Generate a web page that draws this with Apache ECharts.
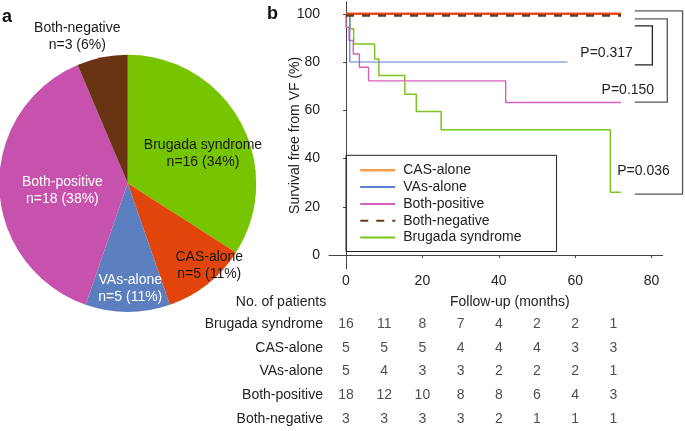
<!DOCTYPE html>
<html><head><meta charset="utf-8">
<script src="https://cdn.jsdelivr.net/npm/echarts@6/dist/echarts.min.js"></script>
<style>html,body{margin:0;padding:0;background:#fff}#c{width:685px;height:431px}</style>
</head><body><div id="c"></div>
<script>
const FONT = "'Liberation Sans', Arial, Helvetica, sans-serif";
// ---- Panel a: pie ----
const pieNames = ['Brugada syndrome', 'CAS-alone', 'VAs-alone', 'Both-positive', 'Both-negative'];
const pieCounts = [16, 5, 5, 18, 3];
const pieColors = ['#77c400', '#e2450c', '#5b7fbf', '#c652ad', '#6a3414'];
const pieLabelColors = ['#1a1a1a', '#1a1a1a', '#ffffff', '#ffffff', '#1a1a1a'];
// ---- Panel b: Kaplan-Meier ----
const casTimes = [0, 72];                 const casSurv = [100, 100];
const vasTimes = [0, 1, 58];              const vasSurv = [100, 80, 80];
const bothPosTimes = [0, 0, 0.8, 1.9, 3.5, 5.9, 41.8, 72];
const bothPosSurv  = [100, 94.4, 88.9, 83.3, 77.8, 72.2, 63.2, 63.2];
const bothNegTimes = [0, 72];             const bothNegSurv = [99.3, 99.3];
const brugadaTimes = [0, 1, 2, 7.5, 8.6, 15.4, 18.4, 24.9, 69.2, 72];
const brugadaSurv  = [100, 93.8, 87.5, 81.3, 74.4, 66.6, 59.5, 51.9, 26, 26];
const xTicks = [0, 20, 40, 60, 80];
const yTicks = [0, 20, 40, 60, 80, 100];
// ---- Number at risk ----
const atRiskMonths = [0, 10, 20, 30, 40, 50, 60, 70];
const tableRows = ['Brugada syndrome', 'CAS-alone', 'VAs-alone', 'Both-positive', 'Both-negative'];
const atRiskBrugada = [16, 11, 8, 7, 4, 2, 2, 1];
const atRiskCAS     = [5, 5, 5, 4, 4, 4, 3, 3];
const atRiskVAs     = [5, 4, 3, 3, 2, 2, 2, 1];
const atRiskBothPos = [18, 12, 10, 8, 8, 6, 4, 3];
const atRiskBothNeg = [3, 3, 3, 3, 2, 1, 1, 1];
// ---- P-value annotations ----
const pLabels = ['P=0.317', 'P=0.150', 'P=0.036'];

const zip = (t, s) => t.map((v, i) => [v, s[i]]);
const atRiskAll = [atRiskBrugada, atRiskCAS, atRiskVAs, atRiskBothPos, atRiskBothNeg];
const tableData = [];
atRiskAll.forEach((row, r) => row.forEach((v, i) => tableData.push([atRiskMonths[i], tableRows[r], v])));

const pieLabelPos = [[203, 153.7], [209.3, 265.4], [130.3, 288.4], [62.4, 190.4], [77.3, 36.5]];

const chart = echarts.init(document.getElementById('c'), null, {renderer: 'canvas'});
const kmLine = (name, data, color, width, type) => ({
  type: 'line', name, data, step: 'end', symbol: 'none', showSymbol: false,
  xAxisIndex: 0, yAxisIndex: 0, silent: true,
  lineStyle: {color, width, type: type || 'solid'}, itemStyle: {color}
});

chart.setOption({
  animation: false,
  textStyle: {fontFamily: FONT},
  grid: [
    {left: 329, top: 1.7, right: 22.3, bottom: 162},
    {left: 329, top: 312, right: 22.3, height: 123}
  ],
  xAxis: [
    {type: 'value', gridIndex: 0, min: -4.45, max: 82.9,
     axisLine: {show: true, lineStyle: {color: '#444', width: 1}},
     axisTick: {show: true, customValues: xTicks, length: 3, lineStyle: {color: '#444'}},
     axisLabel: {customValues: xTicks, fontSize: 14, color: '#222', margin: 5, fontFamily: FONT},
     splitLine: {show: false},
     name: 'Follow-up (months)', nameLocation: 'middle', nameGap: 26, nameMoveOverlap: false,
     nameTextStyle: {fontSize: 14, color: '#222', padding: [0, 0, 0, 28], fontFamily: FONT}},
    {type: 'value', gridIndex: 1, min: -4.45, max: 82.9, show: false}
  ],
  yAxis: [
    {type: 'value', gridIndex: 0, min: -5.8, max: 105,
     axisLine: {show: true, lineStyle: {color: '#444', width: 1}},
     axisTick: {show: true, customValues: yTicks, length: 3, lineStyle: {color: '#444'}},
     axisLabel: {customValues: yTicks, fontSize: 14, color: '#222', margin: 9, fontFamily: FONT},
     splitLine: {show: false},
     name: 'Survival free from VF (%)', nameLocation: 'middle', nameGap: 27, nameMoveOverlap: false,
     nameTextStyle: {fontSize: 14, color: '#222', fontFamily: FONT}},
    {type: 'category', gridIndex: 1, data: tableRows, inverse: true,
     axisLine: {show: false}, axisTick: {show: false}, splitLine: {show: false},
     axisLabel: {fontSize: 14, color: '#222', margin: 6, fontFamily: FONT}}
  ],
  legend: {
    orient: 'vertical', left: 346, top: 155.3, padding: [8, 35, 7, 13],
    borderColor: '#222', borderWidth: 1, itemWidth: 35, itemHeight: 14, itemGap: 2.8,
    itemStyle: {opacity: 0, borderWidth: 0},
    textStyle: {fontSize: 14, color: '#222', fontFamily: FONT, padding: [0, 0, 0, 3]},
    selectedMode: false,
    data: [
      {name: 'CAS-alone', lineStyle: {color: '#f5a04a', width: 2.5}},
      {name: 'VAs-alone'},
      {name: 'Both-positive'},
      {name: 'Both-negative'},
      {name: 'Brugada syndrome'}
    ]
  },
  series: [
    {type: 'pie', name: 'pie', center: [127.7, 183.3], radius: 128.5, startAngle: 90, clockwise: true,
     silent: true, emphasis: {disabled: true},
     data: pieNames.map((n, i) => ({name: n, value: pieCounts[i],
       itemStyle: {color: pieColors[i]}, label: {color: pieLabelColors[i]}})),
     label: {show: true, position: 'inside', fontSize: 14, lineHeight: 17.5, fontFamily: FONT,
       formatter: p => p.name + '\nn=' + p.value + ' (' + Math.round(p.percent) + '%)'},
     labelLine: {show: false},
     labelLayout: p => ({x: pieLabelPos[p.dataIndex][0], y: pieLabelPos[p.dataIndex][1], align: 'center', verticalAlign: 'middle'})
    },
    kmLine('Brugada syndrome', zip(brugadaTimes, brugadaSurv), '#7ac51f', 1.5),
    kmLine('Both-positive', zip(bothPosTimes, bothPosSurv), '#d660be', 1.4),
    kmLine('VAs-alone', zip(vasTimes, vasSurv), '#5b80d0', 1.2),
    kmLine('CAS-alone', zip(casTimes, casSurv), '#e84d1c', 2.5),
    kmLine('Both-negative', zip(bothNegTimes, bothNegSurv), '#6b3a18', 2.5, [8, 8]),
    {type: 'scatter', name: 'atrisk', xAxisIndex: 1, yAxisIndex: 1, data: tableData,
     symbol: 'circle', symbolSize: 1, itemStyle: {color: 'rgba(0,0,0,0)'}, silent: true,
     label: {show: true, position: 'inside', fontSize: 14, color: '#222', fontFamily: FONT,
       formatter: p => String(p.value[2])}}
  ]
});

// Annotations: brackets and P-values (in data units of the KM grid)
const brackets = [
  {left: 75.6, right: 80.2, top: 95.0, bottom: 78.8, color: '#222'},
  {left: 75.6, right: 84.1, top: 97.9, bottom: 63.4, color: '#555'},
  {left: 75.6, right: 88.1, top: 101.2, bottom: 25.2, color: '#555'}
];
const pTextPos = [{x: 75.1, y: 83.8, align: 'right'}, {x: 66.9, y: 68.5, align: 'left'}, {x: 71.0, y: 34.9, align: 'left'}];
const px = v => chart.convertToPixel({gridIndex: 0}, v);
const graphics = [];
brackets.forEach(b => {
  const a = px([b.left, b.top]), c = px([b.right, b.top]), d = px([b.right, b.bottom]), e = px([b.left, b.bottom]);
  graphics.push({type: 'polyline', silent: true, shape: {points: [a, c, d, e]},
    style: {stroke: b.color, lineWidth: 1.3, fill: null}});
});
pTextPos.forEach((p, i) => {
  const q = px([p.x, p.y]);
  graphics.push({type: 'text', x: q[0], y: q[1], silent: true,
    style: {text: pLabels[i], fontSize: 14, fill: '#222', fontFamily: FONT, align: p.align, verticalAlign: 'middle'}});
});
graphics.push({type: 'text', x: 281, y: 301.7, style: {text: 'No. of patients', fontSize: 14, fill: '#222', fontFamily: FONT, align: 'center', verticalAlign: 'middle'}});
graphics.push({type: 'text', x: 2, y: 17.5, style: {text: 'a', fontSize: 18, fontWeight: 'bold', fill: '#111', fontFamily: FONT, align: 'left', verticalAlign: 'middle'}});
graphics.push({type: 'text', x: 267, y: 14, style: {text: 'b', fontSize: 18, fontWeight: 'bold', fill: '#111', fontFamily: FONT, align: 'left', verticalAlign: 'middle'}});
chart.setOption({graphic: graphics});
</script>
</body></html>
